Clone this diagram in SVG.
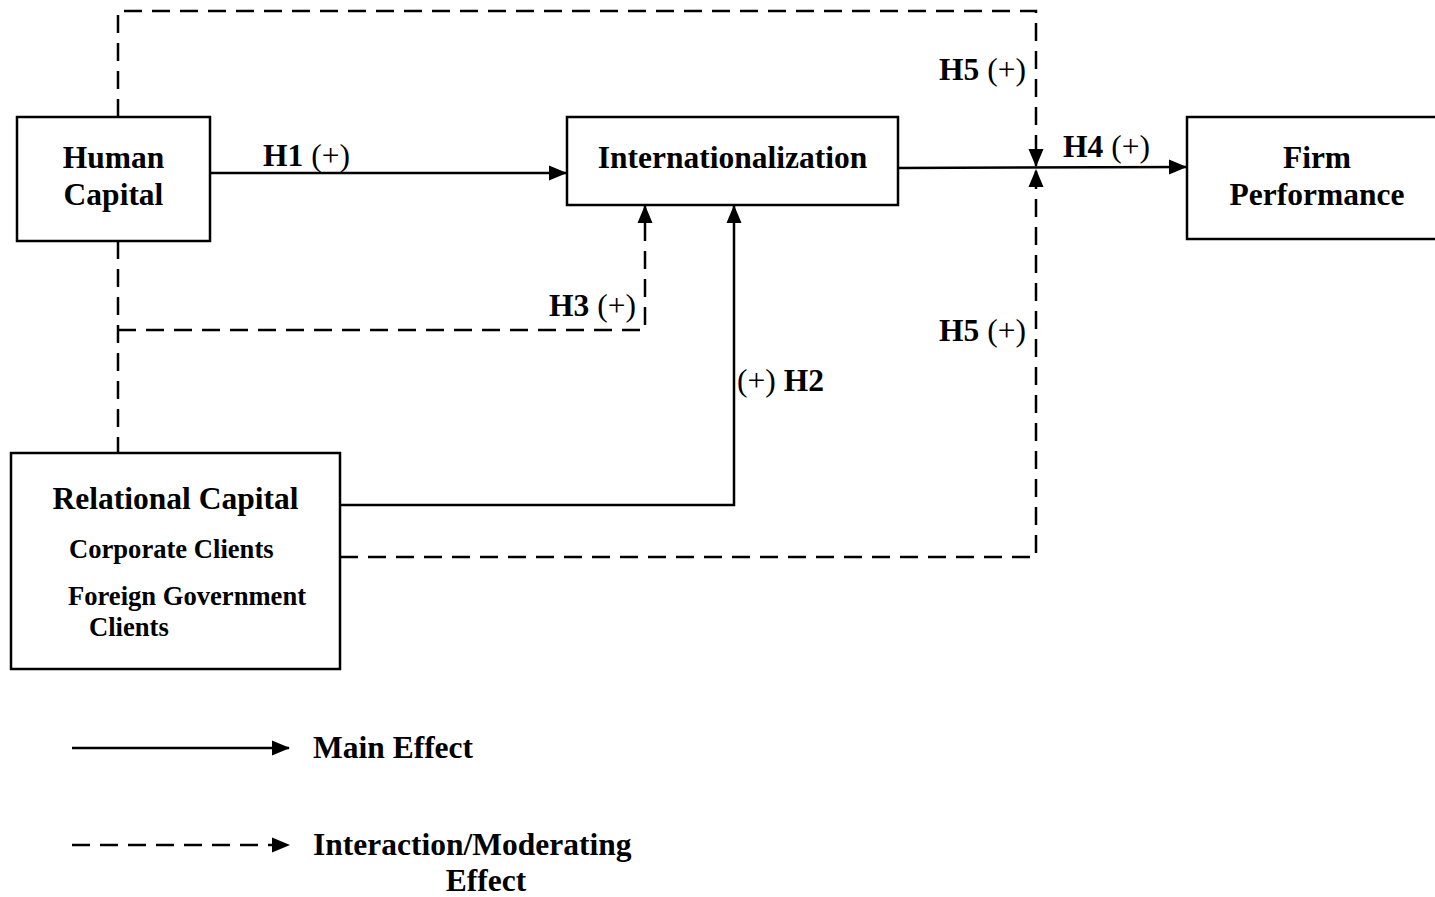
<svg xmlns="http://www.w3.org/2000/svg" width="1435" height="897" viewBox="0 0 1435 897">
<style>
.box{fill:#fff;stroke:#000;stroke-width:2.5}
.ln{fill:none;stroke:#000;stroke-width:2.5}
.dash{fill:none;stroke:#000;stroke-width:2.5;stroke-dasharray:18 10}
text{font-family:"Liberation Serif","Times New Roman",serif;fill:#000}
.b{font-weight:bold;font-size:31.5px}
.s{font-weight:bold;font-size:26.6px}
.r{font-weight:normal}
</style>
<defs>
<marker id="ah" markerUnits="userSpaceOnUse" markerWidth="18" markerHeight="16" refX="17" refY="8" orient="auto">
<path d="M0,0.5 L18,8 L0,15.5 Z" fill="#000"/>
</marker>
</defs>
<rect width="1435" height="897" fill="#fff"/>
<g id="connectors">
<path class="ln" d="M210,173 H566" marker-end="url(#ah)"/>
<path class="ln" d="M898,168 L1186,167" marker-end="url(#ah)"/>
<path class="dash" d="M118,117 V11 H1036 V166" marker-end="url(#ah)"/>
<path class="dash" d="M340,557 H1036 V170" marker-end="url(#ah)"/>
<path class="dash" d="M118,241 V453"/>
<path class="dash" d="M118,330 H645 V206" marker-end="url(#ah)"/>
<path class="ln" d="M340,505 H734 V206" marker-end="url(#ah)"/>
</g>
<g id="human-capital">
<rect class="box" x="17" y="117" width="193" height="124"/>
<text class="b" x="113.5" y="168" text-anchor="middle">Human</text>
<text class="b" x="113.5" y="205" text-anchor="middle">Capital</text>
</g>
<g id="internationalization">
<rect class="box" x="567" y="117" width="331" height="88"/>
<text class="b" x="732.5" y="168" text-anchor="middle">Internationalization</text>
</g>
<g id="firm-performance">
<rect class="box" x="1187" y="117" width="260" height="122"/>
<text class="b" x="1317" y="168" text-anchor="middle">Firm</text>
<text class="b" x="1317" y="205" text-anchor="middle">Performance</text>
</g>
<g id="relational-capital">
<rect class="box" x="11" y="453" width="329" height="216"/>
<text class="b" x="175.5" y="509" text-anchor="middle">Relational Capital</text>
<text class="s" x="69" y="558">Corporate Clients</text>
<text class="s" x="68" y="605">Foreign Government</text>
<text class="s" x="89" y="636">Clients</text>
</g>
<g id="labels">
<text class="b" x="263" y="166">H1 <tspan class="r">(+)</tspan></text>
<text class="b" x="1063" y="157">H4 <tspan class="r">(+)</tspan></text>
<text class="b" x="1026" y="80" text-anchor="end">H5 <tspan class="r">(+)</tspan></text>
<text class="b" x="1026" y="341" text-anchor="end">H5 <tspan class="r">(+)</tspan></text>
<text class="b" x="636" y="316" text-anchor="end">H3 <tspan class="r">(+)</tspan></text>
<text class="b" x="737" y="391"><tspan class="r">(+)</tspan> H2</text>
</g>
<g id="legend">
<path class="ln" d="M72,748 H289" marker-end="url(#ah)"/>
<text class="b" x="313" y="758">Main Effect</text>
<path class="dash" d="M72,845 H289" marker-end="url(#ah)"/>
<text class="b" x="313" y="855">Interaction/Moderating</text>
<text class="b" x="486" y="891" text-anchor="middle">Effect</text>
</g>
</svg>
